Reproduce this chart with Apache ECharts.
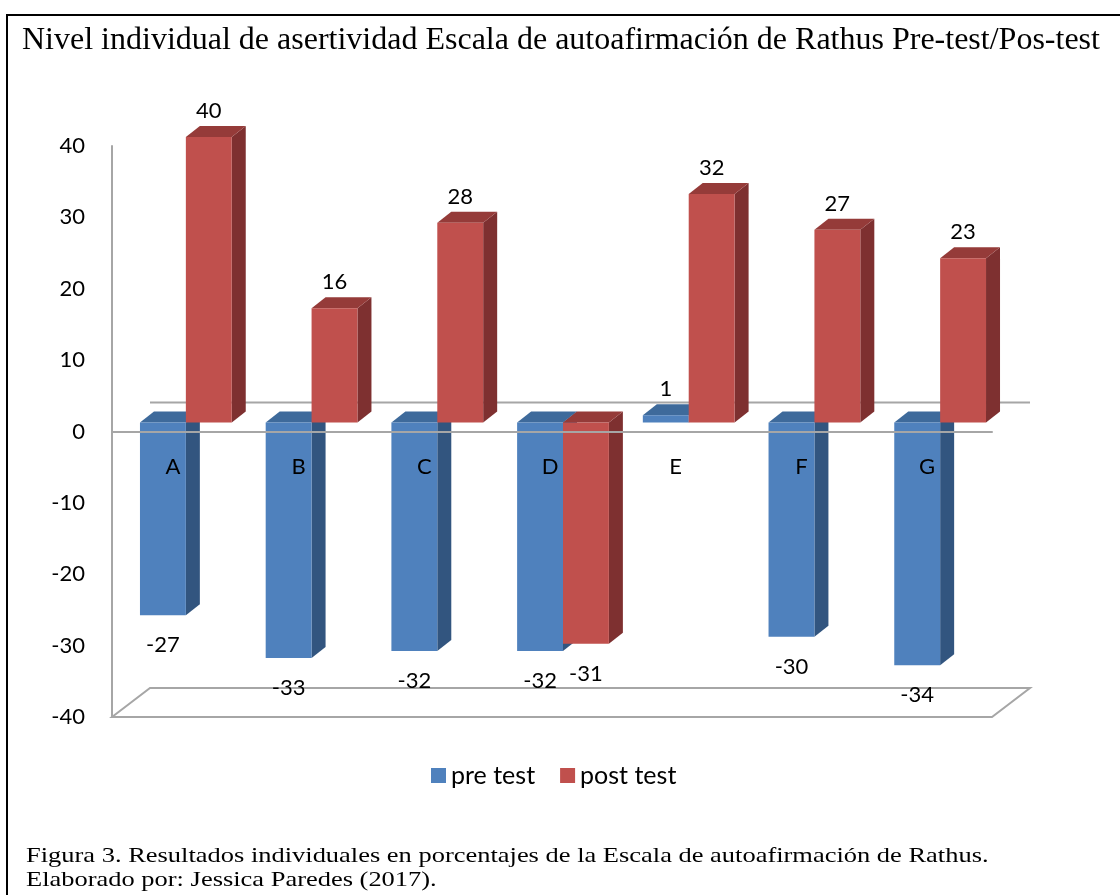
<!DOCTYPE html>
<html lang="es">
<head>
    <meta charset="UTF-8">
    <title>Nivel individual de asertividad</title>
    <script src="https://cdn.jsdelivr.net/npm/echarts@6/dist/echarts.min.js"></script>
    <style>
        html, body { margin: 0; padding: 0; background: #fff; }
        #main { width: 1120px; height: 895px; }
    </style>
</head>
<body>
    <div id="main"></div>
    <script type="text/javascript">
        // datos
        const categories = ['A', 'B', 'C', 'D', 'E', 'F', 'G'];
        const preTest = [-27, -33, -32, -32, 1, -30, -34];
        const postTest = [40, 16, 28, -31, 32, 27, 23];

        const SHIFT = [11, -9];   // barras dentro de la profundidad
        const DEPTH = [14, -11];  // profundidad de cada barra
        const FLOOR = [38, -29];  // profundidad del piso
        const labelFont = 'Lato, "Open Sans", sans-serif';

        function boxRenderer(slot, front, side, top) {
            return function (params, api) {
                const i = api.value(0), v = api.value(1);
                const band = api.size([1, 0])[0];
                const w = band * 0.365;
                const base = api.coord([i, 0]);
                const end = api.coord([i, v]);
                const x0 = base[0] + SHIFT[0] + (slot - 1) * w;
                const yTop = Math.min(base[1], end[1]) + SHIFT[1];
                const yBot = Math.max(base[1], end[1]) + SHIFT[1];
                const x1 = x0 + w;
                const labelY = v >= 0 ? end[1] + SHIFT[1] - 26 : end[1] + SHIFT[1] + 30;
                return {
                    type: 'group',
                    children: [
                        { type: 'polygon', shape: { points: [[x1, yTop], [x1 + DEPTH[0], yTop + DEPTH[1]], [x1 + DEPTH[0], yBot + DEPTH[1]], [x1, yBot]] }, style: { fill: side } },
                        { type: 'polygon', shape: { points: [[x0, yTop], [x0 + DEPTH[0], yTop + DEPTH[1]], [x1 + DEPTH[0], yTop + DEPTH[1]], [x1, yTop]] }, style: { fill: top } },
                        { type: 'rect', shape: { x: x0, y: yTop, width: w, height: yBot - yTop }, style: { fill: front } },
                        { type: 'text', x: x0 + w / 2, y: labelY, z2: 50, style: { text: String(v), fill: '#000', font: '22px ' + labelFont, align: 'center', verticalAlign: 'middle' } }
                    ]
                };
            };
        }

        function floorRenderer(params, api) {
            const cs = params.coordSys;
            const yb = cs.y + cs.height;
            const y0 = api.coord([0, 0])[1];
            const xl = cs.x, xr = cs.x + cs.width;
            const lineStyle = { stroke: '#A6A6A6', lineWidth: 2, fill: null };
            return {
                type: 'group',
                children: [
                    { type: 'polygon', shape: { points: [[xl, yb], [xl + FLOOR[0], yb + FLOOR[1]], [xr + FLOOR[0], yb + FLOOR[1]], [xr, yb]] }, style: lineStyle },
                    { type: 'line', shape: { x1: xl + FLOOR[0], y1: y0 + FLOOR[1], x2: xr + FLOOR[0], y2: y0 + FLOOR[1] }, style: lineStyle }
                ]
            };
        }

        // etiquetas de categoria sobre el eje cero
        function categoryRenderer(params, api) {
            const i = api.value(0);
            const p = api.coord([i, 0]);
            return {
                type: 'text',
                x: p[0] - 2,
                y: p[1] + 35,
                style: { text: categories[i], fill: '#000', font: '22px ' + labelFont, align: 'center', verticalAlign: 'middle' }
            };
        }

        const chart = echarts.init(document.getElementById('main'));
        option = {
            animation: false,
            title: {
                text: 'Nivel individual de asertividad Escala de autoafirmación de Rathus Pre-test/Pos-test',
                left: 17,
                top: 20,
                textStyle: { fontFamily: '"Liberation Serif", serif', fontSize: 32, fontWeight: 'normal', color: '#000' }
            },
            legend: {
                data: ['pre test', 'post test'],
                top: 758,
                left: 426,
                icon: 'rect',
                itemWidth: 15,
                itemHeight: 15,
                itemGap: 25,
                textStyle: { fontFamily: labelFont, fontSize: 25, color: '#000' }
            },
            grid: {
                left: 112,
                right: 128,
                top: 146,
                bottom: 178
            },
            xAxis: {
                type: 'category',
                data: categories,
                z: 10,
                axisLine: { onZero: true, lineStyle: { color: '#A6A6A6', width: 2 } },
                axisTick: { show: false },
                axisLabel: { show: false },
                splitLine: { show: false }
            },
            yAxis: {
                type: 'value',
                min: -40,
                max: 40,
                interval: 10,
                axisLine: { show: true, lineStyle: { color: '#A6A6A6', width: 2 } },
                axisTick: { show: false },
                axisLabel: { margin: 27, fontFamily: labelFont, fontSize: 22, color: '#000' },
                splitLine: { show: false }
            },
            graphic: [
                { type: 'rect', shape: { x: 7, y: 15, width: 1300, height: 1000 }, style: { fill: null, stroke: '#000', lineWidth: 2 } },
                { type: 'text', x: 26, y: 856, scaleX: 1.26, style: { text: 'Figura 3. Resultados individuales en porcentajes de la Escala de autoafirmación de Rathus.', font: '21px "Liberation Serif", serif', fill: '#000', verticalAlign: 'middle' } },
                { type: 'text', x: 26, y: 880, scaleX: 1.26, style: { text: 'Elaborado por: Jessica Paredes (2017).', font: '21px "Liberation Serif", serif', fill: '#000', verticalAlign: 'middle' } }
            ],
            series: [
                {
                    name: 'floor',
                    type: 'custom',
                    z: 1,
                    renderItem: floorRenderer,
                    data: [[0]],
                    silent: true
                },
                {
                    name: 'pre test',
                    type: 'custom',
                    itemStyle: { color: '#4F81BD' },
                    renderItem: boxRenderer(0, '#4F81BD', '#32557F', '#3E6A9B'),
                    data: categories.map((c, i) => [i, preTest[i]])
                },
                {
                    name: 'post test',
                    type: 'custom',
                    itemStyle: { color: '#C0504D' },
                    renderItem: boxRenderer(1, '#C0504D', '#7E3030', '#953B39'),
                    data: categories.map((c, i) => [i, postTest[i]])
                },
                {
                    name: 'categories',
                    type: 'custom',
                    z: 12,
                    silent: true,
                    renderItem: categoryRenderer,
                    data: categories.map((c, i) => [i])
                }
            ]
        };
        chart.setOption(option);
    </script>
</body>
</html>
